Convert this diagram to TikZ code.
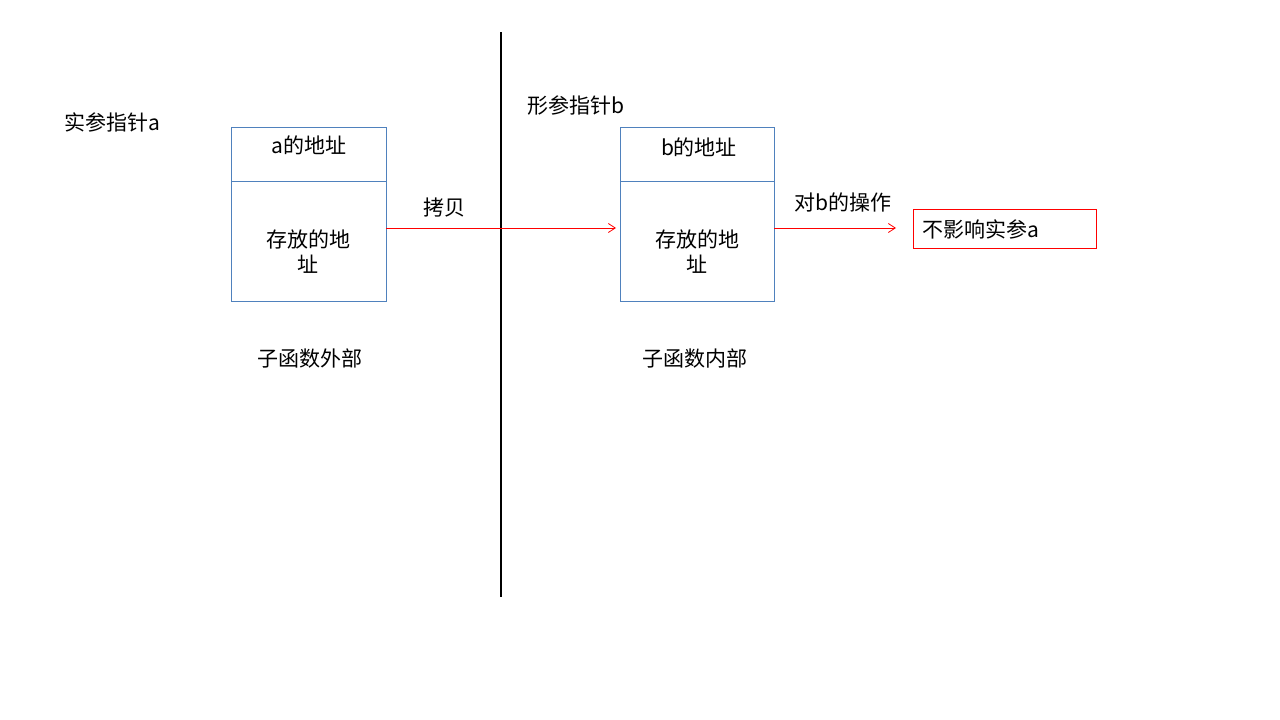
\documentclass[tikz,border=0pt]{standalone}
\usepackage{fontspec}
\setmainfont{Noto Sans CJK SC}
\usetikzlibrary{arrows.meta}
\begin{document}
\begin{tikzpicture}[x=1pt,y=-1pt,
  box/.style={draw={rgb,255:red,79;green,129;blue,189},line width=0.8pt},
  lbl/.style={font=\fontsize{21}{25}\selectfont,inner sep=0pt},
  red/.style={draw={rgb,255:red,255;green,0;blue,0},line width=0.8pt}]
\useasboundingbox (0,0) rectangle (1280,720);
\draw[line width=1.6pt] (501,32) coordinate (vt) -- (501,597) coordinate (vb);
\node[box,minimum width=155pt,minimum height=174pt,anchor=north west,inner sep=0pt] (A) at (231,127) {};
\draw[box] (231,181) -- (386,181);
\node[box,minimum width=154pt,minimum height=174pt,anchor=north west,inner sep=0pt] (B) at (620,127) {};
\draw[box] (620,181) -- (774,181);
\node[lbl] (a1) at (309,145) {a的地址};
\node[lbl,align=center] (a2) at (308,252) {存放的地\\址};
\node[lbl] (b1) at (699,147) {b的地址};
\node[lbl,align=center] (b2) at (697,252) {存放的地\\址};
\node[lbl,anchor=west] (t1) at (64,122) {实参指针a};
\node[lbl,anchor=west] (t2) at (527,106) {形参指针b};
\node[lbl] (o1) at (310,359) {子函数外部};
\node[lbl] (o2) at (695,359) {子函数内部};
\node[red,minimum width=183pt,minimum height=39pt,anchor=north west,inner sep=0pt] (R) at (913,209) {};
\node[lbl,anchor=west] (rt) at (922,229) {不影响实参a};
\coordinate (s1) at (386,228); \coordinate (e1) at (616,228);
\coordinate (s2) at (774,228); \coordinate (e2) at (896,228);
\draw[red,-{Straight Barb[length=7pt,width=9pt]}] (s1) -- (e1);
\draw[red,-{Straight Barb[length=7pt,width=9pt]}] (s2) -- (e2);
\node[lbl] (c1) at (444,208) {拷贝};
\node[lbl] (c2) at (843,202) {对b的操作};
\end{tikzpicture}
\end{document}
